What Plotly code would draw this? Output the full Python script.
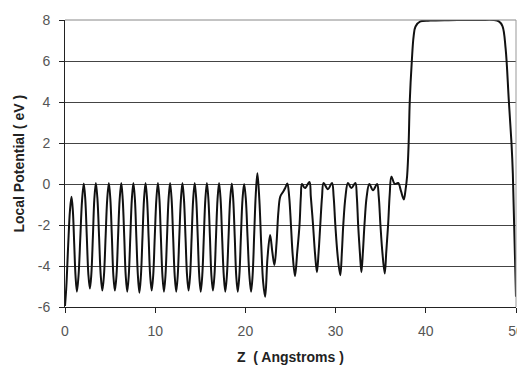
import plotly.graph_objects as go

# Z (Angstroms) positions
z = [0.00, 0.15, 0.35, 0.55, 0.72, 0.87, 1.02, 1.17, 1.32,
     1.51, 1.70, 1.89, 2.08, 2.25, 2.42, 2.59, 2.76,
     2.92, 3.09, 3.25, 3.42, 3.60, 3.78, 3.96, 4.14,
     4.32, 4.50, 4.68, 4.86, 5.03, 5.20, 5.36, 5.53,
     5.71, 5.88, 6.06, 6.24, 6.40, 6.57, 6.73, 6.90,
     7.07, 7.24, 7.41, 7.58, 7.75, 7.91, 8.08, 8.25,
     8.42, 8.59, 8.76, 8.93, 9.10, 9.27, 9.44, 9.61,
     9.78, 9.95, 10.13, 10.30, 10.47, 10.63, 10.80, 10.97,
     11.14, 11.31, 11.48, 11.65, 11.82, 11.99, 12.16, 12.33,
     12.50, 12.67, 12.85, 13.02, 13.19, 13.36, 13.53, 13.70,
     13.87, 14.04, 14.21, 14.38, 14.55, 14.72, 14.88, 15.05,
     15.22, 15.39, 15.56, 15.73, 15.90, 16.07, 16.23, 16.40,
     16.57, 16.74, 16.91, 17.08, 17.25, 17.42, 17.60, 17.77,
     17.95, 18.13, 18.31, 18.49, 18.65, 18.82, 18.98, 19.15,
     19.33, 19.50, 19.68, 19.86, 20.05, 20.24, 20.44, 20.63,
     20.80, 20.98, 21.15, 21.33, 21.55, 21.76, 21.97, 22.19,
     22.45, 22.74, 22.98, 23.22, 23.45, 23.65, 23.86, 24.15, 24.40, 24.65,
     24.85, 25.05, 25.25, 25.50, 25.75, 26.00, 26.15, 26.27, 26.60, 27.10,
     27.25, 27.50, 27.72, 27.93, 28.12, 28.30, 28.50, 28.67, 29.15, 29.60,
     29.78, 29.97, 30.25, 30.52, 30.70, 30.85, 31.10, 31.37, 31.75, 32.19,
     32.35, 32.50, 32.70, 32.86, 33.03, 33.20, 33.45, 33.74, 34.15, 34.60,
     34.78, 34.97, 35.20, 35.45, 35.62, 35.82, 36.00, 36.19, 36.56, 36.93,
     37.25, 37.56, 37.75, 37.93, 38.10, 38.22, 38.45, 38.65, 38.86, 39.40,
     40.50, 42.50, 44.20, 46.00, 47.55, 48.10, 48.50, 48.85, 49.20, 49.50,
     49.65, 49.80, 50.00]

# Local potential (eV)
potential = [-5.95, -5.00, -3.00, -1.30, -0.62, -1.30, -2.90, -4.50, -5.25,
             -4.40, -2.60, -0.80, 0.03, -0.75, -2.60, -4.40, -5.10,
             -4.40, -2.60, -0.75, 0.05, -0.75, -2.60, -4.45, -5.20,
             -4.45, -2.60, -0.75, 0.05, -0.75, -2.60, -4.45, -5.20,
             -4.45, -2.60, -0.75, 0.05, -0.75, -2.60, -4.45, -5.25,
             -4.45, -2.60, -0.75, 0.05, -0.75, -2.60, -4.45, -5.30,
             -4.45, -2.60, -0.75, 0.05, -0.75, -2.60, -4.45, -5.20,
             -4.45, -2.60, -0.75, 0.05, -0.75, -2.60, -4.45, -5.25,
             -4.45, -2.60, -0.75, 0.05, -0.75, -2.60, -4.45, -5.25,
             -4.45, -2.60, -0.75, 0.05, -0.75, -2.60, -4.45, -5.20,
             -4.45, -2.60, -0.75, 0.05, -0.75, -2.60, -4.45, -5.25,
             -4.45, -2.60, -0.75, 0.05, -0.75, -2.60, -4.45, -5.20,
             -4.45, -2.60, -0.75, 0.05, -0.75, -2.60, -4.45, -5.25,
             -4.45, -2.60, -0.75, 0.03, -0.75, -2.60, -4.45, -5.25,
             -4.45, -2.60, -0.75, 0.00, -0.75, -2.60, -4.45, -5.25,
             -4.45, -2.40, -0.50, 0.52, -0.80, -3.00, -4.80, -5.50,
             -3.60, -2.49, -3.30, -3.95, -2.90, -1.40, -0.62, -0.40, -0.21, 0.03,
             -0.60, -2.00, -3.50, -4.49, -3.30, -2.00, -0.60, 0.00, -0.20, 0.10,
             -0.60, -2.00, -3.40, -4.30, -3.30, -2.00, -0.60, 0.05, -0.25, 0.05,
             -0.60, -2.00, -3.60, -4.45, -3.30, -2.00, -0.60, 0.05, -0.20, 0.05,
             -0.60, -2.00, -3.40, -4.30, -3.30, -2.00, -0.60, 0.00, -0.30, 0.00,
             -0.60, -2.00, -3.40, -4.36, -3.30, -2.00, -0.50, 0.36, 0.00, 0.05,
             -0.35, -0.75, -0.30, 0.40, 2.00, 4.00, 6.00, 7.20, 7.68, 7.93,
             7.97, 7.99, 8.00, 8.00, 8.00, 7.93, 7.70, 6.60, 4.10, 2.00,
             0.50, -2.10, -5.50]

x_ticks = [0, 10, 20, 30, 40, 50]
y_ticks = [-6, -4, -2, 0, 2, 4, 6, 8]
y_tick_text = ["-6", "-4", "-2", "0", "2", "4", "6", "8"]

fig = go.Figure()
fig.add_trace(go.Scatter(
    x=z, y=potential, mode="lines",
    line=dict(color="#111111", width=2, shape="spline", smoothing=1.0),
    showlegend=False, hoverinfo="skip",
))

tick_font = dict(family="Liberation Sans, Arial, sans-serif", size=14, color="#555555")
title_font = dict(family="Liberation Sans, Arial, sans-serif", size=14, color="#222222")

# the page body adds an 8 px margin, so the figure is sized to fit the window
fig.update_layout(
    width=517, height=359,
    margin=dict(l=57, r=9, t=12, b=60),
    paper_bgcolor="white", plot_bgcolor="white",
    xaxis=dict(
        range=[0, 50], tickvals=x_ticks, ticks="outside", ticklen=5,
        tickcolor="#222", showline=True, linecolor="#222", linewidth=1,
        showgrid=False, zeroline=False, tickfont=tick_font,
        ticklabelstandoff=6, automargin=False,
    ),
    yaxis=dict(
        range=[-6, 8], tickvals=y_ticks, ticktext=y_tick_text, ticks="outside",
        ticklen=5, tickcolor="#222", showline=True, linecolor="#222", linewidth=1,
        showgrid=True, gridcolor="#444444", gridwidth=1, zeroline=False,
        tickfont=tick_font, ticklabelstandoff=6, automargin=False,
    ),
    annotations=[
        dict(text="<b>Z  ( Angstroms )</b>", xref="paper", yref="paper",
             x=0.5, y=-0.174, xanchor="center", yanchor="middle",
             showarrow=False, font=title_font),
        dict(text="<b>Local Potential ( eV )</b>", xref="paper", yref="paper",
             x=-0.104, y=0.5, xanchor="center", yanchor="middle", textangle=-90,
             showarrow=False, font=title_font),
    ],
    shapes=[
        dict(type="line", xref="paper", yref="paper", x0=0, x1=1, y0=1, y1=1,
             line=dict(color="#888888", width=1)),
        dict(type="line", xref="paper", yref="paper", x0=1, x1=1, y0=0, y1=1,
             line=dict(color="#999999", width=1)),
    ],
)

fig.write_html("out.html")
